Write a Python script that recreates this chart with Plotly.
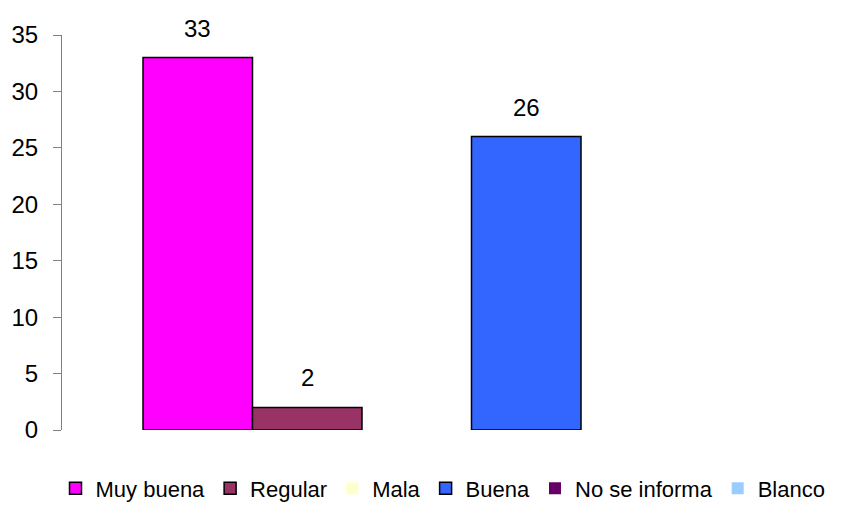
import plotly.graph_objects as go

series_names = ["Muy buena", "Regular", "Mala", "Buena", "No se informa", "Blanco"]
series_values = [33, 2, 0, 26, 0, 0]
series_colors = ["#FF00FF", "#993366", "#FFFFCC", "#3366FF", "#660066", "#99CCFF"]
y_ticks = [0, 5, 10, 15, 20, 25, 30, 35]

FONT = "Liberation Sans, Arial, sans-serif"
# the page body has an 8px margin, so the figure is drawn 8px in from the window edge
PAGE_OFFSET = 8
FIG_W, FIG_H = 864 - PAGE_OFFSET, 505 - PAGE_OFFSET

fig = go.Figure()
for i, (name, val, col) in enumerate(zip(series_names, series_values, series_colors)):
    fig.add_trace(go.Bar(
        x=[i], y=[val], name=name, width=1,
        marker=dict(color=col, line=dict(color="black", width=1.5 if val > 0 else 0)),
    ))
    if val > 0:
        fig.add_annotation(x=i, y=val, text=str(val), showarrow=False,
                           yanchor="bottom", yshift=14,
                           font=dict(family=FONT, size=24, color="black"))

plot_left, plot_right, plot_top, plot_bottom = 62 - PAGE_OFFSET, 840 - PAGE_OFFSET, 35 - PAGE_OFFSET, 430 - PAGE_OFFSET
px_per_unit = 109.5
first_bar_center_px = 143 - PAGE_OFFSET + px_per_unit / 2
x_range = [-(first_bar_center_px - plot_left) / px_per_unit,
           (plot_right - first_bar_center_px) / px_per_unit]

legend_center_x = 443 - PAGE_OFFSET

fig.update_layout(
    width=FIG_W, height=FIG_H,
    margin=dict(l=plot_left, r=FIG_W - plot_right, t=plot_top, b=FIG_H - plot_bottom, autoexpand=False),
    paper_bgcolor="white", plot_bgcolor="white",
    barmode="overlay",
    font=dict(family=FONT, size=24, color="black"),
    xaxis=dict(range=x_range, showticklabels=False, showline=False,
               showgrid=False, zeroline=False, ticks=""),
    yaxis=dict(range=[0, 35], tickvals=y_ticks, showgrid=False, zeroline=False,
               showline=True, linecolor="#808080", linewidth=1,
               ticks="outside", ticklen=8, tickcolor="#808080", ticklabelstandoff=10),
    showlegend=True,
    legend=dict(orientation="h", x=(legend_center_x - plot_left) / (plot_right - plot_left),
                xanchor="center", y=-0.095, yanchor="top",
                font=dict(family=FONT, size=22), itemwidth=30, traceorder="normal",
                bgcolor="rgba(0,0,0,0)"),
)
fig.write_html("out.html")
